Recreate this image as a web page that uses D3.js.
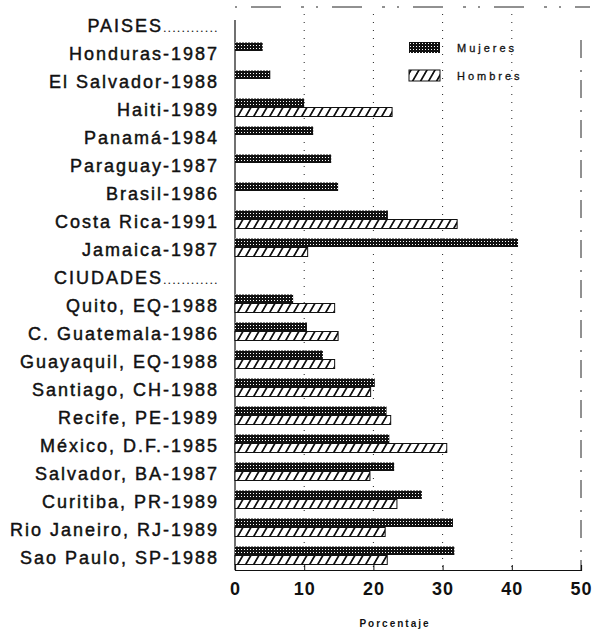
<!DOCTYPE html>
<meta charset="utf-8" />
<style>
  body { margin: 0; background: #fff; }
  text { font-family: "Liberation Sans", Arial, sans-serif; fill: #111; }
</style>
<svg width="593" height="629"></svg>
<script src="https://d3js.org/d3.v7.min.js"></script>
<script>
  // rows top to bottom, headers included
  var categories = [
    "PAISES", "Honduras-1987", "El Salvador-1988", "Haiti-1989", "Panamá-1984",
    "Paraguay-1987", "Brasil-1986", "Costa Rica-1991", "Jamaica-1987",
    "CIUDADES", "Quito, EQ-1988", "C. Guatemala-1986", "Guayaquil, EQ-1988",
    "Santiago, CH-1988", "Recife, PE-1989", "México, D.F.-1985", "Salvador, BA-1987",
    "Curitiba, PR-1989", "Rio Janeiro, RJ-1989", "Sao Paulo, SP-1988"
  ];
  var headers = ["PAISES", "CIUDADES"];
  var mujeres = [null, 4.0, 5.1, 10.0, 11.3, 13.9, 14.9, 22.1, 40.9,
    null, 8.4, 10.4, 12.7, 20.2, 21.9, 22.3, 23.0, 27.0, 31.5, 31.7];
  var hombres = [null, null, null, 22.7, null, null, null, 32.1, 10.5,
    null, 14.4, 14.9, 14.4, 19.6, 22.5, 30.6, 19.5, 23.4, 21.7, 22.0];
  var xTicks = [0, 10, 20, 30, 40, 50];
  var series = ["Mujeres", "Hombres"];

  var svg = d3.select("svg");

  var x = d3.scaleLinear().domain([0, 50]).range([235, 581]);
  var y = d3.scaleBand().domain(categories).range([11, 571]);

  // patterns
  var defs = svg.append("defs");
  var dots = defs.append("pattern")
    .attr("id", "dots").attr("patternUnits", "userSpaceOnUse")
    .attr("width", 3).attr("height", 3);
  dots.append("rect").attr("width", 3).attr("height", 3).attr("fill", "#111");
  dots.append("rect").attr("x", 1).attr("y", 1).attr("width", 1).attr("height", 1).attr("fill", "#fff");

  var hatch = defs.append("pattern")
    .attr("id", "hatch").attr("patternUnits", "userSpaceOnUse")
    .attr("width", 8).attr("height", 10)
    .attr("patternTransform", "skewX(-30)");
  hatch.append("rect").attr("width", 8).attr("height", 10).attr("fill", "#fff");
  hatch.append("line").attr("x1", 2).attr("x2", 2).attr("y1", 0).attr("y2", 10)
    .attr("stroke", "#111").attr("stroke-width", 2);

  // grid
  svg.append("g").selectAll("line")
    .data([10, 20, 30, 40])
    .enter().append("line")
    .attr("x1", d => x(d)).attr("x2", d => x(d))
    .attr("y1", 14).attr("y2", 570)
    .attr("stroke", "#222").attr("stroke-width", 1)
    .attr("stroke-dasharray", "1,7");

  // frame, broken like the scan
  svg.append("line").attr("x1", x(0)).attr("x2", 590).attr("y1", 7).attr("y2", 7)
    .attr("stroke", "#222").attr("stroke-dasharray", "2,14,30,20,3,12");
  svg.append("line").attr("x1", x(50)).attr("x2", x(50)).attr("y1", 40).attr("y2", 570)
    .attr("stroke", "#222").attr("stroke-dasharray", "18,12,2,8");
  svg.append("line").attr("x1", x(0)).attr("x2", x(0)).attr("y1", 20).attr("y2", 570)
    .attr("stroke", "#111").attr("stroke-width", 1.2);

  // bottom axis
  var axis = svg.append("g").attr("transform", "translate(0,570)")
    .call(d3.axisBottom(x).tickValues(xTicks).tickSize(-5).tickPadding(12));
  axis.select(".domain").attr("stroke", "#111").attr("stroke-width", 1.2);
  axis.selectAll(".tick line").attr("stroke", "#111");
  axis.selectAll(".tick text")
    .style("font-family", "'Liberation Sans', Arial, sans-serif")
    .style("font-size", "18px").style("font-weight", "bold")
    .style("letter-spacing", "1px").attr("fill", "#111");

  svg.append("text").attr("x", 395).attr("y", 627)
    .attr("text-anchor", "middle")
    .style("font-size", "10px").style("font-weight", "bold").style("letter-spacing", "2px")
    .text("Porcentaje");

  // category labels
  var labels = svg.append("g").selectAll("text")
    .data(categories)
    .enter().append("text")
    .attr("x", 219)
    .attr("y", d => y(d) + y.bandwidth() / 2 + 7)
    .attr("text-anchor", "end")
    .attr("stroke", "#111").attr("stroke-width", 0.45)
    .style("font-size", "18px")
    .style("letter-spacing", "2px");
  labels.filter(d => headers.indexOf(d) < 0).text(d => d);
  labels.filter(d => headers.indexOf(d) >= 0).each(function (d) {
    var t = d3.select(this);
    t.append("tspan").text(d);
    t.append("tspan").attr("stroke-width", 0.2).style("font-size", "11px")
      .style("letter-spacing", "1.6px").text("............");
  });

  // bars
  var rows = categories.map((c, i) => ({ name: c, m: mujeres[i], h: hombres[i] }));
  var bars = svg.append("g").selectAll("g")
    .data(rows)
    .enter().append("g")
    .attr("transform", d => "translate(0," + (y(d.name) + y.bandwidth() / 2) + ")");

  bars.filter(d => d.m != null).append("rect")
    .attr("x", x(0)).attr("y", -10.5)
    .attr("width", d => x(d.m) - x(0)).attr("height", 8.5)
    .attr("fill", "url(#dots)");

  bars.filter(d => d.h != null).append("rect")
    .attr("x", x(0)).attr("y", -1.5)
    .attr("width", d => x(d.h) - x(0)).attr("height", 9)
    .attr("fill", "url(#hatch)")
    .attr("stroke", "#111").attr("stroke-width", 1);

  // legend
  var legend = svg.append("g").selectAll("g")
    .data(series)
    .enter().append("g")
    .attr("transform", (d, i) => "translate(409," + (42 + i * 28) + ")");
  legend.append("rect")
    .attr("width", 31).attr("height", 11)
    .attr("fill", (d, i) => i == 0 ? "url(#dots)" : "url(#hatch)")
    .attr("stroke", (d, i) => i == 0 ? "none" : "#111");
  legend.append("text")
    .attr("x", 48).attr("y", 10)
    .attr("stroke", "#111").attr("stroke-width", 0.3)
    .style("font-size", "11px").style("letter-spacing", "3px")
    .text(d => d);
</script>
